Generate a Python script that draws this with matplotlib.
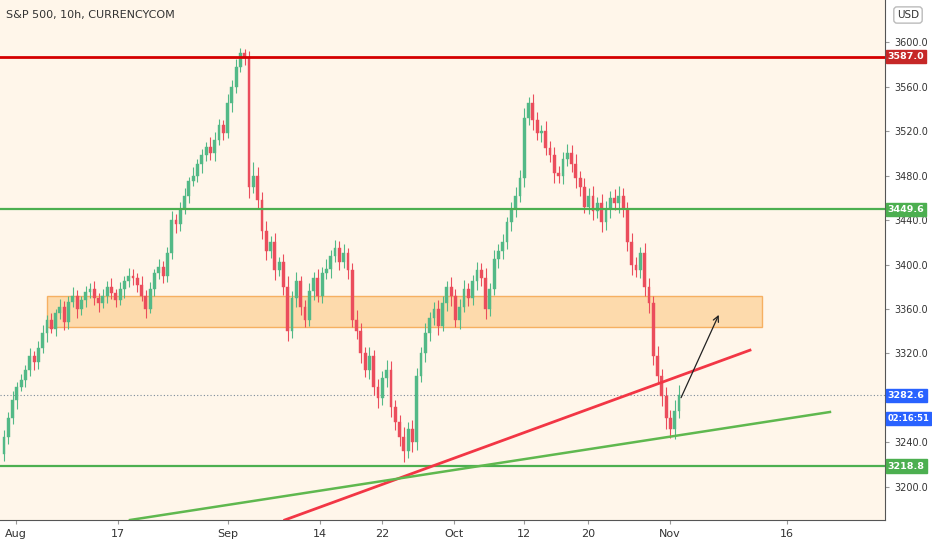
import matplotlib
matplotlib.use("Agg")
import matplotlib.pyplot as plt
from matplotlib.patches import Rectangle

closes = [3245,3262,3278,3290,3296,3305,3318,3312,3325,3338,
          3350,3342,3356,3362,3348,3366,3372,3360,3368,3375,
          3378,3370,3365,3372,3380,3374,3368,3378,3385,3390,
          3388,3382,3372,3360,3378,3392,3398,3390,3410,3440,
          3436,3450,3462,3475,3480,3490,3498,3506,3500,3512,
          3525,3518,3545,3560,3578,3590,3586,3470,3480,3458,
          3430,3412,3420,3395,3402,3380,3340,3370,3385,3362,
          3350,3376,3388,3372,3392,3396,3408,3415,3402,3410,
          3395,3350,3340,3320,3305,3318,3290,3280,3298,3305,
          3272,3258,3245,3232,3252,3240,3300,3320,3338,3352,
          3360,3345,3365,3380,3372,3350,3362,3378,3370,3385,
          3395,3388,3360,3378,3405,3412,3420,3438,3450,3462,
          3478,3532,3545,3530,3518,3520,3505,3498,3482,3480,
          3495,3500,3490,3478,3470,3452,3462,3448,3455,3438,
          3450,3460,3455,3462,3450,3420,3400,3395,3410,3380,
          3365,3318,3300,3282,3262,3252,3268,3282.6]
first_open = 3230
wick_up = [6,5,8,4,6,5,7,4,6,8, 5,6,4,7,5,6,8,5,4,6, 5,7,4,6,5,8,4,6,5,7,
           6,4,8,5,6,4,7,5,6,8, 5,6,7,4,8,5,6,4,9,7, 6,5,8,6,7,5,4,6,12,8,
           7,9,6,8,5,7,10,6,8,5, 6,7,5,8,6,9,5,7,6,8, 5,6,9,7,6,8,5,7,6,9,
           8,6,7,9,6,8,7,6,9,5, 6,8,7,5,9,6,7,8,5,6, 7,6,9,5,8,6,7,5,6,8,
           7,9,6,8,7,5,9,6,8,7, 6,8,7,9,6,8,7,9,6,8, 7,6,8,9,7,6,8,7,6,9,
           8,7,9,6,8,7,10,9]
wick_dn = [7,6,5,8,4,6,5,7,6,5, 8,4,6,5,7,6,4,8,5,6, 5,6,8,4,7,5,6,4,8,5,
           6,7,5,8,4,6,5,7,6,5, 8,6,5,7,4,6,8,5,6,7, 5,6,4,8,6,5,7,10,6,8,
           7,8,6,9,5,7,9,6,8,7, 6,5,8,6,7,5,8,6,7,5, 8,6,7,9,6,8,7,9,6,8,
           9,7,8,10,6,9,7,6,8,7, 6,8,5,7,9,6,8,5,7,6, 8,7,9,6,5,8,7,6,8,7,
           6,8,7,9,6,8,7,6,9,7, 8,6,7,9,8,6,7,8,6,9, 7,8,6,9,7,8,9,6,7,8,
           9,8,7,9,10,8,9,6]

level_red = 3587.0
level_green_hi = 3449.6
level_green_lo = 3218.8
last_price = 3282.6
zone = (10.0, 176.3, 3343.8, 3371.7)           # x0, x1 (bars), p0, p1
red_trend = ((65.3, 3170.3), (173.5, 3323.0))
green_trend = ((29.3, 3170.3), (192.1, 3267.4))
arrow = ((157.2, 3278.0), (166.5, 3357.0))
tick_pos = [2.8, 26.5, 52.1, 73.5, 87.9, 104.7, 120.9, 135.8, 154.9, 182.1]
tick_lab = ["Aug", "17", "Sep", "14", "22", "Oct", "12", "20", "Nov", "16"]
yticks = list(range(3200, 3601, 40))

UP, DN = "#53b987", "#eb4d5c"
fig = plt.figure(figsize=(9.32, 5.5), dpi=100)
fig.patch.set_facecolor("white")
ax = fig.add_axes([0, 30/550, 885/932, 520/550])
ax.set_facecolor("#fff6ea")
ax.set_xlim(-0.93, 204.9)
ax.set_ylim(3170.3, 3637.8)

ax.add_patch(Rectangle((zone[0], zone[2]), zone[1]-zone[0], zone[3]-zone[2],
                       facecolor="#fdd6a2", edgecolor="#f5a650", lw=1, alpha=0.85, zorder=1))
o = first_open
for i, c in enumerate(closes):
    col = UP if c >= o else DN
    hi = max(o, c) + wick_up[i]
    lo = min(o, c) - wick_dn[i]
    ax.vlines(i, lo, hi, color=col, lw=0.8, zorder=3)
    ax.add_patch(Rectangle((i-0.33, min(o, c)), 0.66, max(abs(c-o), 0.6),
                           facecolor=col, edgecolor=col, lw=0.3, zorder=4))
    o = c

ax.axhline(level_red, color="#d50000", lw=2, zorder=5)
ax.axhline(level_green_hi, color="#4caf50", lw=1.6, zorder=5)
ax.axhline(level_green_lo, color="#4caf50", lw=1.6, zorder=5)
ax.axhline(last_price, color="#7a8a99", lw=0.8, ls=(0, (1, 2)), zorder=2)
ax.plot(*zip(*red_trend), color="#f23645", lw=2, zorder=6)
ax.plot(*zip(*green_trend), color="#5fb84f", lw=1.8, zorder=6)
ax.annotate("", xy=arrow[1], xytext=arrow[0],
            arrowprops=dict(arrowstyle="->", color="#222222", lw=0.9), zorder=7)

ax.set_xticks(tick_pos)
ax.set_xticklabels(tick_lab, fontsize=8, color="#333333")
ax.yaxis.tick_right()
ax.set_yticks(yticks)
ax.set_yticklabels([f"{v:.1f}" for v in yticks], fontsize=7, color="#333333")
ax.tick_params(length=3, color="#999999")
for s in ["top", "left"]:
    ax.spines[s].set_visible(False)
ax.spines["right"].set_color("#555555")
ax.spines["bottom"].set_color("#555555")

def tag(p, text, col, fs=6.8):
    ax.text(1.003, p, text, transform=ax.get_yaxis_transform(), fontsize=fs, color="white",
            va="center", ha="left", fontweight="bold",
            bbox=dict(boxstyle="square,pad=0.22", fc=col, ec=col), zorder=10, clip_on=False)
tag(level_red, "3587.0", "#c62828")
tag(level_green_hi, "3449.6", "#4caf50")
tag(last_price, "3282.6", "#2962ff")
tag(last_price - 21, "02:16:51", "#2962ff", fs=6.0)
tag(level_green_lo, "3218.8", "#4caf50")

fig.text(6/932, 1-15/550, "S&P 500, 10h, CURRENCYCOM", fontsize=8, color="#333333", va="center")
fig.text(908/932, 1-15/550, "USD", fontsize=7.5, color="#333333", va="center", ha="center",
         bbox=dict(boxstyle="round,pad=0.3", fc="white", ec="#bbbbbb"))
fig.savefig("out.png", dpi=100)
